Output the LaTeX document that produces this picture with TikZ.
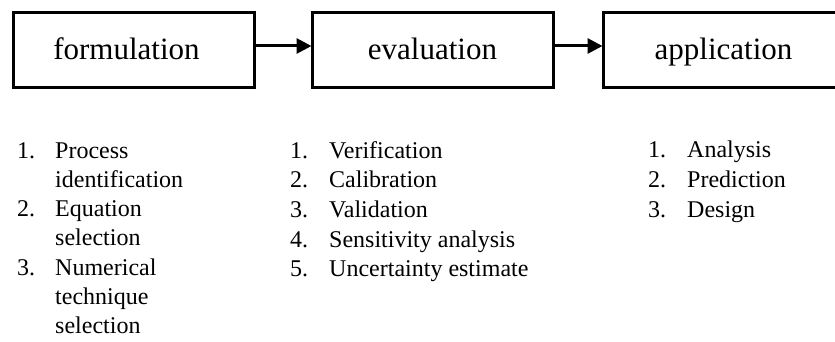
\documentclass[tikz,border=0pt]{standalone}
\usepackage{fontspec}
\setmainfont{Liberation Serif}
\usetikzlibrary{arrows.meta}
\begin{document}
\begin{tikzpicture}[x=1pt,y=1pt,
  stagebox/.style={draw=black, line width=3pt, minimum width=241pt, minimum height=75pt,
    inner sep=0pt, font=\fontsize{31}{37}\selectfont, text height=25.7pt, text depth=6.8pt},
  arr/.style={line width=3pt, -{Triangle[length=15pt,width=15pt]}, shorten >=-1pt},
  num/.style={anchor=base west, inner sep=0pt, font=\fontsize{24}{29}\selectfont},
  item/.style={anchor=base west, inner sep=0pt, font=\fontsize{24}{29}\selectfont}]
\useasboundingbox (0,0) rectangle (835,-342);
\clip (0,0) rectangle (835,-342);
% boxes
\node[stagebox] (b1) at (133.5,-50.5) {formulation\hspace*{14pt}};
\node[stagebox] (b2) at (432.5,-50.5) {evaluation};
\node[stagebox] (b3) at (723.5,-50.5) {application};
% arrows
\draw[arr] ([yshift=4.5pt]b1.east) -- ([yshift=4.5pt]b2.west);
\draw[arr] ([yshift=4.5pt]b2.east) -- ([yshift=4.5pt]b3.west);
% column 1
\node[num]  (n11) at (17,-158) {1.};
\node[item] (t11) at (55,-158) {Process};
\node[item] (t12) at (55,-187.3) {identification};
\node[num]  (n12) at (17,-216.6) {2.};
\node[item] (t13) at (55,-216.6) {Equation};
\node[item] (t14) at (55,-245.9) {selection};
\node[num]  (n13) at (17,-275.2) {3.};
\node[item] (t15) at (55,-275.2) {Numerical};
\node[item] (t16) at (55,-304.5) {technique};
\node[item] (t17) at (55,-333.8) {selection};
% column 2
\node[num]  (n21) at (290,-158) {1.};
\node[item] (t21) at (329,-158) {Verification};
\node[num]  (n22) at (290,-187.6) {2.};
\node[item] (t22) at (329,-187.6) {Calibration};
\node[num]  (n23) at (290,-217.5) {3.};
\node[item] (t23) at (329,-217.5) {Validation};
\node[num]  (n24) at (290,-247.3) {4.};
\node[item] (t24) at (329,-247.3) {Sensitivity analysis};
\node[num]  (n25) at (290,-276.8) {5.};
\node[item] (t25) at (329,-276.8) {Uncertainty estimate};
% column 3
\node[num]  (n31) at (648,-157.5) {1.};
\node[item] (t31) at (687,-157.5) {Analysis};
\node[num]  (n32) at (648,-187.2) {2.};
\node[item] (t32) at (687,-187.2) {Prediction};
\node[num]  (n33) at (648,-217) {3.};
\node[item] (t33) at (687,-217) {Design};
\end{tikzpicture}
\end{document}
